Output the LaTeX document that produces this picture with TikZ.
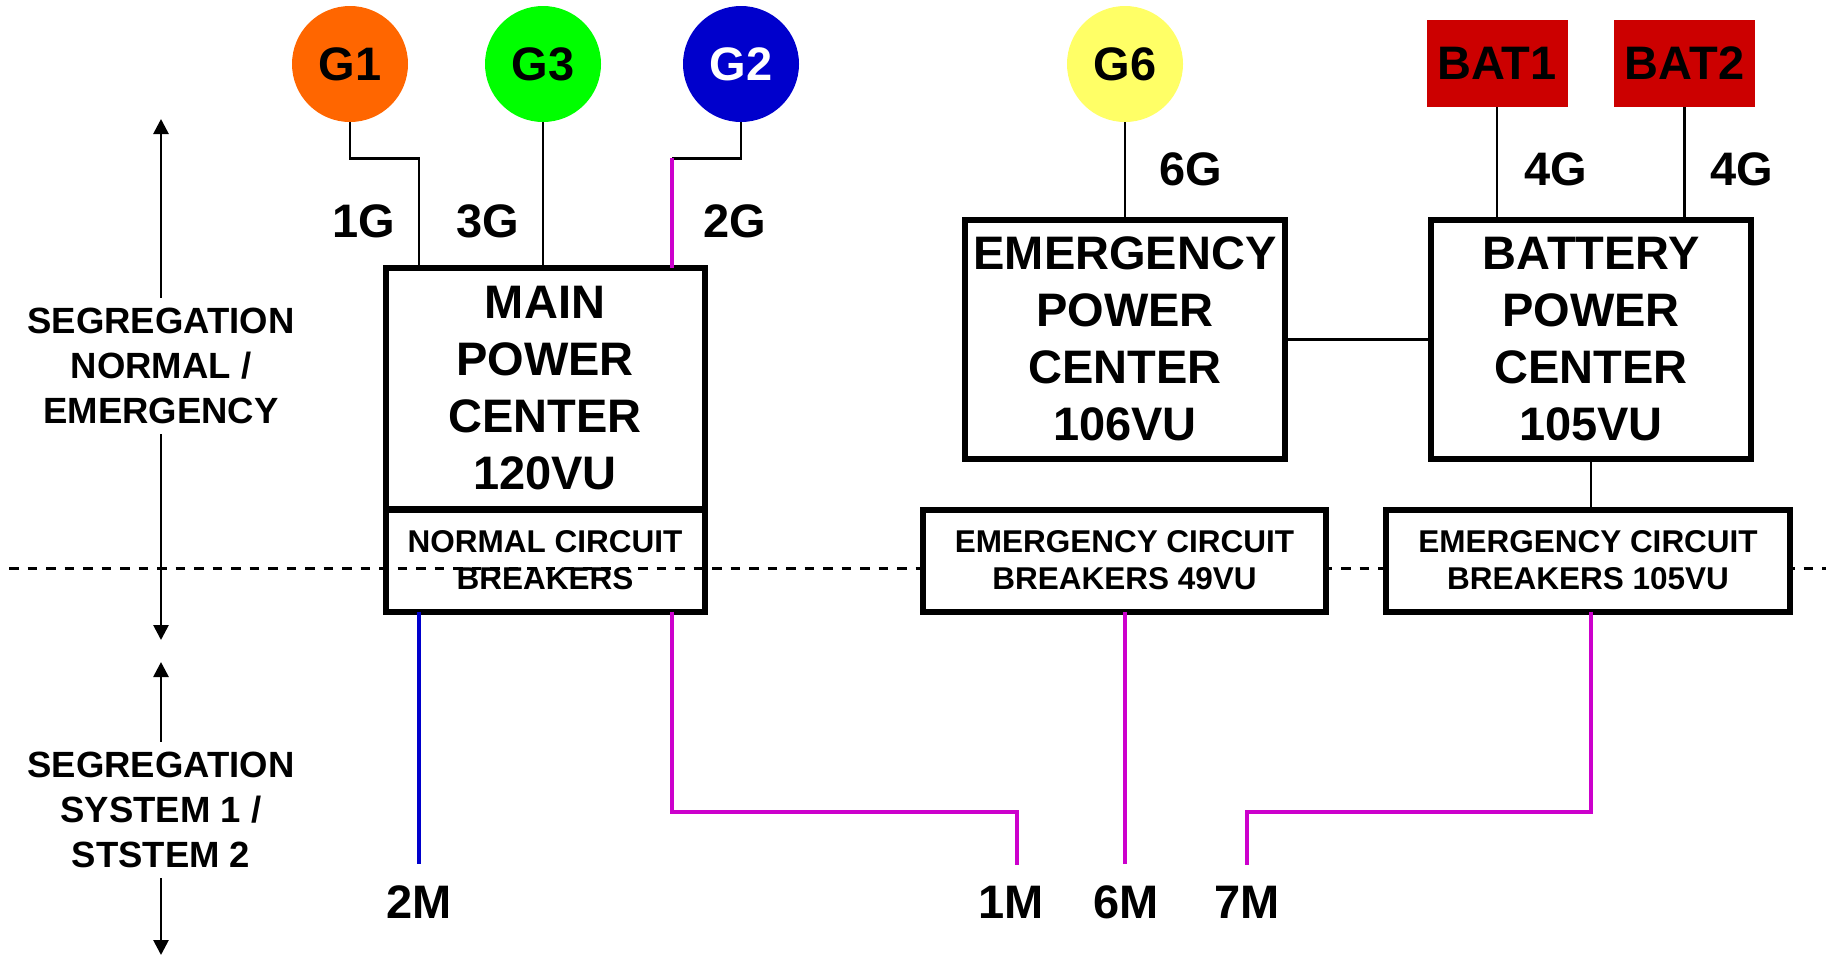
\documentclass[tikz,border=0pt]{standalone}
\usepackage{fontspec}
\setmainfont{Liberation Sans}
\usetikzlibrary{arrows.meta, backgrounds}
\definecolor{genorange}{HTML}{FF6600}
\definecolor{gengreen}{HTML}{00FF00}
\definecolor{genblue}{HTML}{0000CC}
\definecolor{genyellow}{HTML}{FFFF66}
\definecolor{batred}{HTML}{CC0000}
\definecolor{wireblue}{HTML}{0000CC}
\definecolor{wiremag}{HTML}{CC00CC}
\newcommand{\bigtxt}{\fontsize{47}{57}\selectfont\bfseries}
\newcommand{\segtxt}{\fontsize{36.5}{45}\selectfont\bfseries}
\newcommand{\cbtxt}{\fontsize{31.5}{37}\selectfont\bfseries}

\begin{document}
\begin{tikzpicture}[x=1pt, y=-1pt,
  gen/.style={circle, minimum size=116pt, inner sep=0pt, font=\bigtxt},
  bat/.style={fill=batred, minimum width=141pt, minimum height=87pt, inner sep=0pt, font=\bigtxt},
  pc/.style={draw, line width=6pt, outer sep=0pt, minimum width=320pt, minimum height=239.5pt, align=center, font=\bigtxt},
  cb/.style={draw, line width=6pt, outer sep=0pt, fill=white, minimum height=102pt, align=center, font=\cbtxt},
  seg/.style={align=center, font=\segtxt, inner sep=10pt},
  lbl/.style={font=\bigtxt, inner sep=0pt},
  mlbl/.style={font=\bigtxt, inner xsep=0pt, inner ysep=21pt},
  wire/.style={line width=2.7pt},
  bwire/.style={line width=4pt, draw=wireblue},
  mwire/.style={line width=4pt, draw=wiremag},
  dline/.style={line width=3pt, dash pattern=on 9.5pt off 9pt},
  arr/.style={-{Triangle[length=15pt, width=15pt]}, line width=2.7pt}
]
\useasboundingbox (0,0) rectangle (1826,956);
\node[gen, fill=genorange] (g1) at (350,64) {G1};
\node[gen, fill=gengreen] (g3) at (543,64) {G3};
\node[gen, fill=genblue, text=white] (g2) at (741,64) {G2};
\node[gen, fill=genyellow] (g6) at (1125,64) {G6};
\node[bat] (bat1) at (1497,63.5) {BAT1};
\node[bat] (bat2) at (1684.5,63.5) {BAT2};
\node[pc, minimum width=319pt, minimum height=241pt] (mainpc) at (545,388.5) {MAIN\\POWER\\CENTER\\120VU};
\node[cb, fill=none, minimum width=319pt] (normcb) at (545,560.5) {NORMAL CIRCUIT\\BREAKERS};
\node[pc] (emerpc) at (1125,339.25) {EMERGENCY\\POWER\\CENTER\\106VU};
\node[pc] (batpc) at (1591,339.25) {BATTERY\\POWER\\CENTER\\105VU};
\node[cb, minimum width=403pt] (cb49) at (1124.5,560.5) {EMERGENCY CIRCUIT\\BREAKERS 49VU};
\node[cb, minimum width=404pt] (cb105) at (1588,560.5) {EMERGENCY CIRCUIT\\BREAKERS 105VU};
\node[lbl] (l1g) at (364,221) {1G};
\node[lbl] (l3g) at (488,221) {3G};
\node[lbl] (l2g) at (735,221) {2G};
\node[lbl] (l6g) at (1191,169) {6G};
\node[lbl] (l4ga) at (1556,169) {4G};
\node[lbl] (l4gb) at (1742,169) {4G};
\node[mlbl] (m2) at (419,902) {2M};
\node[mlbl] (m1) at (1011,902) {1M};
\node[mlbl] (m6) at (1126,902) {6M};
\node[mlbl] (m7) at (1247,902) {7M};
\node[seg] (segne) at (161,366) {SEGREGATION\\NORMAL /\\EMERGENCY};
\node[seg] (segsys) at (161,810) {SEGREGATION\\SYSTEM 1 /\\STSTEM 2};
\coordinate (netop) at (161,119);
\coordinate (nebot) at (161,640);
\coordinate (systop) at (161,662);
\coordinate (sysbot) at (161,955);
\coordinate (dl) at (9,568);
\coordinate (dr) at (1826,568);
\coordinate (mpl) at ([xshift=-126pt]mainpc.north);
\coordinate (mpr) at ([xshift=127pt]mainpc.north);
\draw[wire] (g1.south) -- ++(0,36) -| (mpl);
\draw[wire] (g3.south) -- (g3.south |- mainpc.north);
\draw[wire] (g2.south) -- ++(0,36) coordinate (g2k) -- (g2k -| mpr);
\draw[mwire] (g2k -| mpr) -- (mpr);
\draw[wire] (g6.south) -- (emerpc.north);
\draw[wire] (bat1.south) -- (bat1.south |- batpc.north);
\draw[wire] (bat2.south) -- (bat2.south |- batpc.north);
\draw[wire] (emerpc.east) -- (batpc.west);
\draw[wire] (batpc.south) -- (batpc.south |- cb105.north);
\draw[bwire] (normcb.south -| mpl) -- (m2.north);
\draw[mwire] (normcb.south -| mpr) -- ++(0,200.5) -| ([xshift=6pt]m1.north);
\draw[mwire] (cb49.south) -- (cb49.south |- m6.north);
\draw[mwire] (cb105.south -| batpc.south) -- ++(0,200.5) -| (m7.north);
\draw[arr] (segne.north) -- (netop);
\draw[arr] (segne.south) -- (nebot);
\draw[arr] (segsys.north) -- (systop);
\draw[arr] (segsys.south) -- (sysbot);
\begin{scope}[on background layer]
\draw[dline] (dl) -- (dr);
\end{scope}
\end{tikzpicture}
\end{document}
